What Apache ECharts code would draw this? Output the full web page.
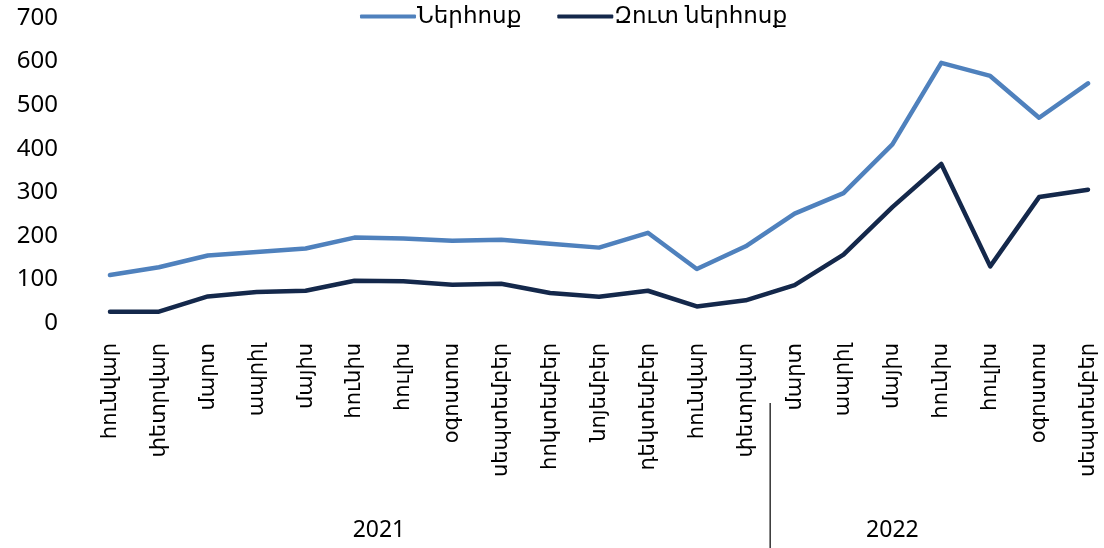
<!DOCTYPE html>
<html>
<head>
<meta charset="utf-8">
<script src="https://cdn.jsdelivr.net/npm/echarts@6/dist/echarts.min.js"></script>
<style>
  html, body { margin: 0; padding: 0; background: #fff; }
  #main { width: 1104px; height: 548px; }
</style>
</head>
<body>
<div id="main"></div>
<script>
// ամիսներ (2021 - 12, 2022 - 9)
var months = ['հունվար', 'փետրվար', 'մարտ', 'ապրիլ', 'մայիս', 'հունիս', 'հուլիս', 'օգոստոս', 'սեպտեմբեր', 'հոկտեմբեր', 'նոյեմբեր', 'դեկտեմբեր',
              'հունվար', 'փետրվար', 'մարտ', 'ապրիլ', 'մայիս', 'հունիս', 'հուլիս', 'օգոստոս', 'սեպտեմբեր'];
var years = ['2021', '2022'];
var yearStart = [0, 12];   // first month index of each year
var dividerAfter = 13;     // the divider in the source sits after 2022 փետրվար

var inflow = [110, 128, 155, 163, 171, 196, 194, 189, 191, 182, 173, 207, 124, 176, 251, 298, 410, 597, 567, 471, 550];
var netInflow = [26, 26, 61, 71, 74, 97, 96, 88, 90, 69, 60, 74, 38, 52, 87, 157, 266, 365, 130, 289, 306];

var seriesNames = ['Ներհոսք', 'Զուտ ներհոսք'];
var yTicks = { min: 0, max: 700, interval: 100 };

var FONT = '"Noto Sans", "DejaVu Sans", sans-serif';

var chart = echarts.init(document.getElementById('main'));

chart.setOption({
    animation: false,
    color: ['#4F81BD', '#14284B'],
    textStyle: { fontFamily: FONT, color: '#000' },
    legend: {
        top: 0,
        left: 355,
        itemGap: 36,
        itemWidth: 56,
        itemHeight: 4,
        icon: 'roundRect',
        textStyle: { fontSize: 23, color: '#000', fontFamily: FONT, padding: [0, 0, 0, -4] },
        data: seriesNames
    },
    grid: { left: 110, right: 16, top: 18, bottom: 225 },
    xAxis: {
        type: 'category',
        data: months,
        boundaryGap: false,
        axisLine: { show: false },
        axisTick: { show: false },
        axisLabel: {
            interval: 0,
            rotate: 90,
            margin: 20,
            fontSize: 21,
            color: '#000',
            fontFamily: FONT
        }
    },
    yAxis: {
        type: 'value',
        min: yTicks.min,
        max: yTicks.max,
        interval: yTicks.interval,
        splitLine: { show: false },
        axisLine: { show: false },
        axisTick: { show: false },
        axisLabel: { fontSize: 24, color: '#000', margin: 52, align: 'right', fontFamily: FONT }
    },
    series: [
        {
            name: seriesNames[0],
            type: 'line',
            data: inflow,
            symbol: 'none',
            lineStyle: { width: 4.5, cap: 'round', join: 'round' }
        },
        {
            name: seriesNames[1],
            type: 'line',
            data: netInflow,
            symbol: 'none',
            lineStyle: { width: 4.5, cap: 'round', join: 'round' }
        }
    ]
});

// տարիների պիտակներ և բաժանարար գիծ
function drawYears() {
    var els = [];
    for (var i = 0; i < years.length; i++) {
        var from = yearStart[i];
        var to = (i + 1 < years.length ? yearStart[i + 1] : months.length) - 1;
        var x1 = chart.convertToPixel({ xAxisIndex: 0 }, from);
        var x2 = chart.convertToPixel({ xAxisIndex: 0 }, to);
        els.push({
            type: 'text',
            x: (x1 + x2) / 2,
            y: 530,
            style: { text: years[i], font: '23px ' + FONT, fill: '#000', align: 'center', verticalAlign: 'middle' }
        });
    }
    var xs = (chart.convertToPixel({ xAxisIndex: 0 }, dividerAfter) +
              chart.convertToPixel({ xAxisIndex: 0 }, dividerAfter + 1)) / 2;
    els.push({
        type: 'line',
        shape: { x1: xs, y1: 403, x2: xs, y2: 548 },
        style: { stroke: '#000', lineWidth: 1.2 }
    });
    chart.setOption({ graphic: els });
}
drawYears();
</script>
</body>
</html>
